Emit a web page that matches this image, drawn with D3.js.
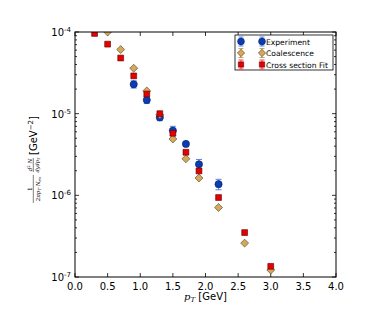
<!DOCTYPE html>
<html>
<head>
<meta charset="utf-8">
<script src="https://cdn.jsdelivr.net/npm/d3@7"></script>
<style>
  body { margin: 0; background: #fff; }
  svg { font-family: "DejaVu Sans", sans-serif; }
</style>
</head>
<body>
<svg id="chart" width="374" height="312"></svg>
<script>
// data
const expPt = [0.9, 1.1, 1.3, 1.5, 1.7, 1.9, 2.2]
const expVal = [2.29e-5, 1.47e-5, 9.0e-6, 6.2e-6, 4.26e-6, 2.4e-6, 1.37e-6]
const expErr = [2.3e-6, 1.4e-6, 0.8e-6, 0.8e-6, 0.25e-6, 0.35e-6, 0.2e-6]

const coalPt = [0.5, 0.7, 0.9, 1.1, 1.3, 1.5, 1.7, 1.9, 2.2, 2.6, 3.0]
const coalVal = [1.0e-4, 6.1e-5, 3.6e-5, 1.9e-5, 9.7e-6, 4.9e-6, 2.8e-6, 1.63e-6, 7.1e-7, 2.6e-7, 1.22e-7]

const fitPt = [0.3, 0.5, 0.7, 0.9, 1.1, 1.3, 1.5, 1.7, 1.9, 2.2, 2.6, 3.0]
const fitVal = [9.6e-5, 7.1e-5, 4.8e-5, 2.9e-5, 1.74e-5, 1.0e-5, 5.75e-6, 3.37e-6, 1.99e-6, 9.4e-7, 3.5e-7, 1.35e-7]

const xTicks = [0, 0.5, 1, 1.5, 2, 2.5, 3, 3.5, 4]
const yTicks = [1e-7, 1e-6, 1e-5, 1e-4]
const legendLabels = ['Experiment', 'Coalescence', 'Cross section Fit']

const margin = { top: 32, right: 38, bottom: 35, left: 75 }
const width = 374 - margin.left - margin.right
const height = 312 - margin.top - margin.bottom

const svg = d3.select('#chart')
const chart = svg.append('g')
    .attr('transform', `translate(${margin.left}, ${margin.top})`)

const xScale = d3.scaleLinear().domain([0, 4]).range([0, width])
const yScale = d3.scaleLog().domain([1e-7, 1e-4]).range([height, 0])

svg.append('defs').append('clipPath').attr('id', 'clip')
    .append('rect').attr('width', width).attr('height', height)

// minor log ticks
const minor = []
for (let e = -7; e < -4; e++) for (let k = 2; k <= 9; k++) minor.push(k * Math.pow(10, e))

const axes = chart.append('g').attr('stroke', '#000').attr('stroke-width', 0.8)
xTicks.forEach(t => {
    const x = xScale(t)
    axes.append('line').attr('x1', x).attr('x2', x).attr('y1', height).attr('y2', height - 4)
    axes.append('line').attr('x1', x).attr('x2', x).attr('y1', 0).attr('y2', 4)
})
yTicks.forEach(t => {
    const y = yScale(t)
    axes.append('line').attr('x1', 0).attr('x2', 4).attr('y1', y).attr('y2', y)
    axes.append('line').attr('x1', width).attr('x2', width - 4).attr('y1', y).attr('y2', y)
})
minor.forEach(t => {
    const y = yScale(t)
    axes.append('line').attr('x1', 0).attr('x2', 2).attr('y1', y).attr('y2', y)
    axes.append('line').attr('x1', width).attr('x2', width - 2).attr('y1', y).attr('y2', y)
})

chart.selectAll('.xlab')
    .data(xTicks)
    .join('text')
        .attr('class', 'xlab')
        .attr('x', d => xScale(d))
        .attr('y', height + 13)
        .attr('text-anchor', 'middle')
        .attr('font-size', 10)
        .text(d => d.toFixed(1))

const ylab = chart.selectAll('.ylab')
    .data(yTicks)
    .join('text')
        .attr('class', 'ylab')
        .attr('x', -4)
        .attr('y', d => yScale(d) + 4)
        .attr('text-anchor', 'end')
        .attr('font-size', 10)
ylab.append('tspan').text('10')
ylab.append('tspan').attr('font-size', 7).attr('dy', -4).text(d => Math.round(Math.log10(d)))

// data layer
const plot = chart.append('g').attr('clip-path', 'url(#clip)')

const expData = expPt.map((p, i) => ({ p, v: expVal[i], e: expErr[i] }))
const coalData = coalPt.map((p, i) => ({ p, v: coalVal[i] }))
const fitData = fitPt.map((p, i) => ({ p, v: fitVal[i] }))

const errColor = '#5a82e6'
plot.selectAll('.err')
    .data(expData)
    .join('g')
        .attr('class', 'err')
        .attr('stroke', errColor)
        .attr('stroke-width', 1)
        .each(function (d) {
            const g = d3.select(this)
            const x = xScale(d.p)
            const y0 = yScale(d.v - d.e), y1 = yScale(d.v + d.e)
            g.append('line').attr('x1', x).attr('x2', x).attr('y1', y0).attr('y2', y1)
            g.append('line').attr('x1', x - 3).attr('x2', x + 3).attr('y1', y0).attr('y2', y0)
            g.append('line').attr('x1', x - 3).attr('x2', x + 3).attr('y1', y1).attr('y2', y1)
        })

plot.selectAll('.exp')
    .data(expData)
    .join('circle')
        .attr('class', 'exp')
        .attr('cx', d => xScale(d.p))
        .attr('cy', d => yScale(d.v))
        .attr('r', 3.6)
        .attr('fill', '#0a3cb4')
        .attr('stroke', '#0a1f5a')
        .attr('stroke-width', 0.6)

const diamond = d3.symbol().type(d3.symbolDiamond2).size(40)
const square = d3.symbol().type(d3.symbolSquare).size(34)

plot.selectAll('.coal')
    .data(coalData)
    .join('path')
        .attr('class', 'coal')
        .attr('d', diamond)
        .attr('transform', d => `translate(${xScale(d.p)}, ${yScale(d.v)})`)
        .attr('fill', '#d4a95e')
        .attr('stroke', '#4a3a20')
        .attr('stroke-width', 0.6)

plot.selectAll('.fit')
    .data(fitData)
    .join('path')
        .attr('class', 'fit')
        .attr('d', square)
        .attr('transform', d => `translate(${xScale(d.p)}, ${yScale(d.v)})`)
        .attr('fill', '#e60000')
        .attr('stroke', '#5a0000')
        .attr('stroke-width', 0.6)

chart.append('rect')
    .attr('width', width).attr('height', height)
    .attr('fill', 'none').attr('stroke', '#000').attr('stroke-width', 1)

// legend
const legend = chart.append('g').attr('transform', `translate(${160}, ${3})`)
legend.append('rect')
    .attr('width', 98).attr('height', 35)
    .attr('fill', '#fff').attr('stroke', '#000').attr('stroke-width', 0.8)
const styles = [
    { err: errColor, draw: g => g.append('circle').attr('r', 3.4).attr('fill', '#0a3cb4').attr('stroke', '#0a1f5a').attr('stroke-width', 0.6) },
    { err: '#c9a25c', draw: g => g.append('path').attr('d', diamond.size(34)()).attr('fill', '#d4a95e').attr('stroke', '#4a3a20').attr('stroke-width', 0.6) },
    { err: '#ff4040', draw: g => g.append('path').attr('d', square.size(28)()).attr('fill', '#e60000').attr('stroke', '#5a0000').attr('stroke-width', 0.6) }
]
legendLabels.forEach((lab, i) => {
    const y = 6.5 + i * 11.5
    ;[6, 27].forEach(x => {
        const g = legend.append('g').attr('transform', `translate(${x}, ${y})`)
        g.append('line').attr('y1', -4.5).attr('y2', 4.5).attr('stroke', styles[i].err)
        g.append('line').attr('x1', -2.5).attr('x2', 2.5).attr('y1', -4.5).attr('y2', -4.5).attr('stroke', styles[i].err)
        g.append('line').attr('x1', -2.5).attr('x2', 2.5).attr('y1', 4.5).attr('y2', 4.5).attr('stroke', styles[i].err)
        styles[i].draw(g)
    })
    legend.append('text')
        .attr('x', 31).attr('y', y + 3)
        .attr('font-size', 7.6)
        .text(lab)
})

// x label
const xl = svg.append('text')
    .attr('x', margin.left + width / 2)
    .attr('y', 300)
    .attr('text-anchor', 'middle')
    .attr('font-size', 10)
xl.append('tspan').attr('font-style', 'italic').attr('font-family', 'DejaVu Serif').text('p')
xl.append('tspan').attr('font-style', 'italic').attr('font-family', 'DejaVu Serif').attr('font-size', 7).attr('dy', 2).text('T')
xl.append('tspan').attr('dy', -2).text(' [GeV]')

// y label, rotated
const yl = svg.append('g').attr('transform', 'translate(35, 153) rotate(-90)')
    .attr('font-family', 'DejaVu Serif').attr('font-style', 'italic')
// 1 / (2 pi pT Nev)
yl.append('text').attr('x', -36).attr('y', -2.8).attr('text-anchor', 'middle').attr('font-size', 6).attr('font-style', 'normal').text('1')
yl.append('line').attr('x1', -50).attr('x2', -22).attr('y1', -1.7).attr('y2', -1.7).attr('stroke', '#000').attr('stroke-width', 0.5)
const den1 = yl.append('text').attr('x', -36).attr('y', 4.6).attr('text-anchor', 'middle').attr('font-size', 5.5)
den1.append('tspan').attr('font-style', 'normal').text('2')
den1.append('tspan').text('πp')
den1.append('tspan').attr('font-size', 4).attr('dy', 1).text('T')
den1.append('tspan').attr('dy', -1).text(' N')
den1.append('tspan').attr('font-size', 4).attr('dy', 1).text('ev')
// d2N / dy dpT
const num2 = yl.append('text').attr('x', -12).attr('y', -3.2).attr('text-anchor', 'middle').attr('font-size', 5.5)
num2.append('tspan').text('d')
num2.append('tspan').attr('font-size', 4).attr('font-style', 'normal').attr('dy', -2).text('2')
num2.append('tspan').attr('dy', 2).text(' N')
yl.append('line').attr('x1', -19).attr('x2', -5).attr('y1', -1.7).attr('y2', -1.7).attr('stroke', '#000').attr('stroke-width', 0.5)
const den2 = yl.append('text').attr('x', -12).attr('y', 4.2).attr('text-anchor', 'middle').attr('font-size', 5)
den2.append('tspan').text('dydp')
den2.append('tspan').attr('font-size', 3.6).attr('dy', 1).text('T')
// [GeV^-2]
const unit = yl.append('text').attr('x', -2).attr('y', 2).attr('font-size', 10)
    .attr('font-family', 'DejaVu Sans').attr('font-style', 'normal')
unit.append('tspan').text('[GeV')
unit.append('tspan').attr('font-size', 7).attr('dy', -4).text('−2')
unit.append('tspan').attr('dy', 4).text(']')
</script>
</body>
</html>
